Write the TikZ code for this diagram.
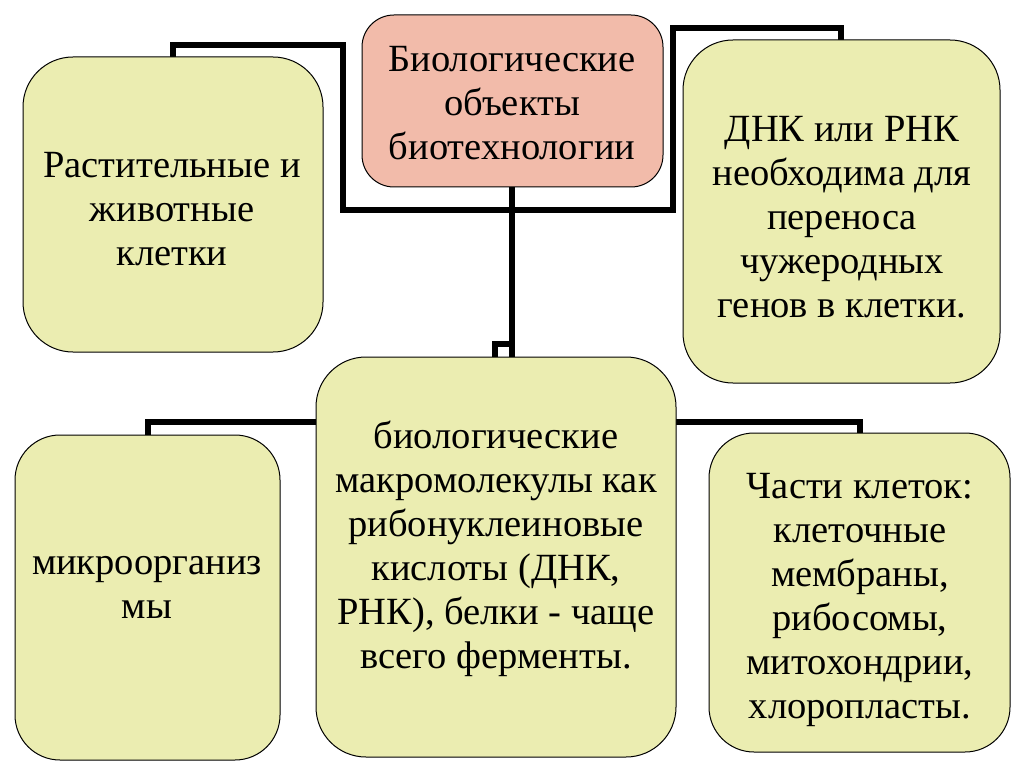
\documentclass[tikz,border=0pt]{standalone}
\usepackage{fontspec}
\setmainfont{Liberation Serif}
\definecolor{pinkfill}{HTML}{F2BBAA}
\definecolor{yelfill}{HTML}{EBEDB1}
\begin{document}
\begin{tikzpicture}[x=1pt,y=-1pt,
  box/.style={draw=black,line width=1pt,rounded corners=45pt,fill=yelfill},
  lbl/.style={align=center,font=\fontsize{38.5}{44}\selectfont,inner sep=0pt},
  conn/.style={line width=6pt,line join=miter,line cap=rect}]
\useasboundingbox (0,0) rectangle (1024,767);
\fill[white] (0,0) rectangle (1024,767);
% connectors (behind boxes)
\draw[conn] (173,57) -- (173,45) -- (343,45) -- (343,210) -- (673,210) -- (673,28) -- (841,28) -- (841,40);
\draw[conn] (512,187) -- (512,357);
\draw[conn] (512,344) -- (495,344) -- (495,357);
\draw[conn] (148,435) -- (148,422) -- (316,422);
\draw[conn] (676,422) -- (860,422) -- (860,433);
% boxes
\draw[box,fill=pinkfill,rounded corners=32pt] (362,15) rectangle (663,187);
\node[lbl] (top) at (512,103) {Биологические\\объекты\\биотехнологии};
\draw[box,rounded corners=50pt] (23,57) rectangle (323,352);
\node[lbl] (lt) at (172,209) {Растительные и\\животные\\клетки};
\draw[box,rounded corners=50pt] (683,40) rectangle (1000,383);
\node[lbl] (rt) at (842,217) {ДНК или РНК\\необходима для\\переноса\\чужеродных\\генов в клетки.};
\draw[box,rounded corners=50pt] (316,357) rectangle (676,757);
\node[lbl] (cb) at (496,549) {биологические\\макромолекулы как\\рибонуклеиновые\\кислоты (ДНК,\\РНК), белки - чаще\\всего ферменты.};
\draw[box,rounded corners=45pt] (15,435) rectangle (280,760);
\node[lbl] (lb) at (147,587) {микроорганиз\\мы};
\draw[box,rounded corners=45pt] (709,433) rectangle (1010,752);
\node[lbl] (rb) at (860,600) {Части клеток:\\клеточные\\мембраны,\\рибосомы,\\митохондрии,\\хлоропласты.};
\end{tikzpicture}
\end{document}
